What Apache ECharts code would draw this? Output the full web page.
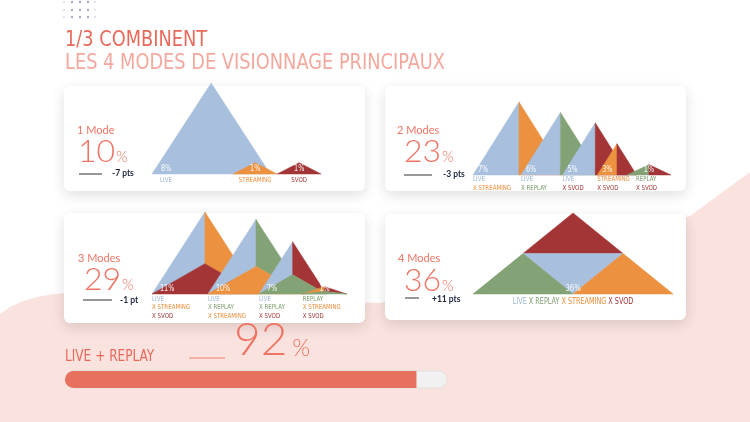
<!DOCTYPE html>
<html><head><meta charset="utf-8">
<script src="https://cdn.jsdelivr.net/npm/echarts@6/dist/echarts.min.js"></script>
<style>html,body{margin:0;padding:0;background:#fff}#c{width:750px;height:422px}</style>
</head><body><div id="c"></div><script>
// ---------- DATA ----------
const titleLine1 = '1/3 COMBINENT';
const titleLine2 = 'LES 4 MODES DE VISIONNAGE PRINCIPAUX';
const modeTitles = ['1 Mode', '2 Modes', '3 Modes', '4 Modes'];
const modeShares = [10, 23, 29, 36];
const modeDeltas = ['-7 pts', '-3 pts', '-1 pt', '+11 pts'];

const combos1 = [['LIVE'], ['STREAMING'], ['SVOD']];
const values1 = [8, 1, 1];

const combos2 = [['LIVE', 'STREAMING'], ['LIVE', 'REPLAY'], ['LIVE', 'SVOD'], ['STREAMING', 'SVOD'], ['REPLAY', 'SVOD']];
const values2 = [7, 6, 5, 3, 1];

const combos3 = [['LIVE', 'STREAMING', 'SVOD'], ['LIVE', 'REPLAY', 'STREAMING'], ['LIVE', 'REPLAY', 'SVOD'], ['REPLAY', 'STREAMING', 'SVOD']];
const faces3 = [['LIVE', 'STREAMING', 'SVOD'], ['LIVE', 'REPLAY', 'STREAMING'], ['LIVE', 'SVOD', 'REPLAY'], ['STREAMING', 'SVOD', 'REPLAY']]; // left, right, bottom
const values3 = [11, 10, 7, 1];

const combos4 = [['LIVE', 'REPLAY', 'STREAMING', 'SVOD']];
const faces4 = [['SVOD', 'LIVE', 'REPLAY', 'STREAMING']]; // top, centre, left, right
const values4 = [36];

const liveReplayLabel = 'LIVE + REPLAY';
const liveReplayShare = 92;

// ---------- STYLE ----------
const COLORS = { LIVE: '#a8c0dd', STREAMING: '#ec913f', REPLAY: '#83a275', SVOD: '#a33536' };
const TEXT_COLORS = { LIVE: '#9db6d8', STREAMING: '#ec8d3a', REPLAY: '#7c9c6c', SVOD: '#a33536' };
const SALMON = '#ee7464';
const NARROW = "'Liberation Sans Narrow', 'Arial Narrow', 'DejaVu Sans Condensed', sans-serif";
const LATO = "Lato, 'Open Sans', sans-serif";

const _ctx = document.createElement('canvas').getContext('2d');
function textW(t, size, family, weight) {
  _ctx.font = (weight || 'normal') + ' ' + size + 'px ' + family;
  return _ctx.measureText(t).width;
}
// horizontal condensing so the available font matches the narrow display face
const SQ = Math.min(1, 380 / textW(titleLine2, 22, NARROW));

const LABEL_SIZE = 6.8;
const cfgs = [
  { kind: 1, k: 0.65, minW: 22, smallH: 20, gap: 2, smallGap: 22, labelDx: 8, pctDx: 9, rowStart: 6, rowGap: 8.5, centerSmall: true },
  { kind: 2, k: 0.63, minW: 22, smallH: 20, gap: 2, smallGap: 10, labelDx: 0, pctDx: 5, rowStart: 4.5, rowGap: 8.5, centerSmall: false },
  { kind: 3, k: 0.645, minW: 22, smallH: 20, gap: 3, smallGap: 10, labelDx: 0, pctDx: 8, rowStart: 5, rowGap: 8.5, centerSmall: false, inner: 0.37 },
  { kind: 4, k: 1.235, minW: 22, smallH: 0, gap: 0, smallGap: 0, labelDx: 0, pctDx: 0, rowStart: 8, rowGap: 0 }
];

function lineTexts(combo) {
  return combo.map((m, i) => ({ text: (i === 0 ? '' : 'X ') + m, mode: m }));
}

function layoutPeaks(vals, combos, api, x0, cfg) {
  const b = api.coord([0, 0])[1];
  const out = [];
  let prevApex = null, prevLabelEnd = -1e9;
  vals.forEach((v, j) => {
    const top = api.coord([0, v])[1];
    const h = b - top;
    const small = h < cfg.smallH;
    const w = small ? cfg.minW : h * cfg.k;
    const L = j === 0 ? x0 : prevApex + (small ? cfg.smallGap : cfg.gap);
    const A = L + w, R = L + 2 * w;
    const lines = lineTexts(combos[j]);
    const lw = SQ * Math.max.apply(null, lines.map(l => textW(l.text, LABEL_SIZE, NARROW)));
    let lx = (small && cfg.centerSmall) ? A - lw / 2 : L + cfg.labelDx;
    lx = Math.max(lx, prevLabelEnd + 6);
    prevLabelEnd = lx + lw;
    out.push({ L, A, R, top, b, h, small, lx, lines });
    prevApex = A;
  });
  return out;
}

function poly(points, color) {
  return { type: 'polygon', shape: { points }, style: { fill: color, stroke: color, lineWidth: 0.5 } };
}

function makeSeries(idx, vals, combos, faces) {
  const cfg = cfgs[idx];
  return {
    type: 'custom', xAxisIndex: idx, yAxisIndex: idx, clip: false, silent: true,
    data: vals.map((v, i) => [i, v]), encode: { x: 0, y: 1 },
    renderItem: function (params, api) {
      const i = params.dataIndex;
      const lay = layoutPeaks(vals, combos, api, params.coordSys.x, cfg);
      const p = lay[i];
      const { L, A, R, top, b, h } = p;
      const ch = [];
      const combo = combos[i];
      if (cfg.kind === 1) {
        ch.push(poly([[L, b], [A, top], [R, b]], COLORS[combo[0]]));
      } else if (cfg.kind === 2) {
        ch.push(poly([[L, b], [A, top], [A, b]], COLORS[combo[0]]));
        ch.push(poly([[A, b], [A, top], [R, b]], COLORS[combo[1]]));
      } else if (cfg.kind === 3) {
        const f = faces[i];
        const py = b - h * cfg.inner;
        ch.push(poly([[L, b], [A, top], [A, py]], COLORS[f[0]]));
        ch.push(poly([[A, top], [R, b], [A, py]], COLORS[f[1]]));
        ch.push(poly([[L, b], [A, py], [R, b]], COLORS[f[2]]));
      } else {
        const f = faces[i];
        const my = (top + b) / 2;
        const m1 = [(L + A) / 2, my], m2 = [(A + R) / 2, my];
        ch.push(poly([[A, top], m1, m2], COLORS[f[0]]));
        ch.push(poly([m1, m2, [A, b]], COLORS[f[1]]));
        ch.push(poly([[L, b], m1, [A, b]], COLORS[f[2]]));
        ch.push(poly([[A, b], m2, [R, b]], COLORS[f[3]]));
      }
      const centered = cfg.kind === 4 || p.small;
      ch.push({
        type: 'text', z2: 10, scaleX: SQ,
        x: centered ? A : L + cfg.pctDx, y: b - 5,
        style: { text: api.value(1) + '%', fill: 'rgba(255,255,255,0.92)', fontSize: cfg.kind === 4 ? 8.5 : 8, fontFamily: NARROW, align: centered ? 'center' : 'left', verticalAlign: 'middle' }
      });
      if (cfg.kind === 4) {
        const segs = p.lines;
        const sp = SQ * textW(' ', 8, NARROW);
        const ws = segs.map(s => SQ * textW(s.text, 8, NARROW));
        const total = ws.reduce((a, c) => a + c, 0) + sp * (segs.length - 1);
        let x = A - total / 2;
        segs.forEach((s, k) => {
          ch.push({ type: 'text', x, y: b + cfg.rowStart, scaleX: SQ, style: { text: s.text, fill: TEXT_COLORS[s.mode], fontSize: 8, fontFamily: NARROW, align: 'left', verticalAlign: 'middle' } });
          x += ws[k] + sp;
        });
      } else {
        p.lines.forEach((l, k) => {
          ch.push({ type: 'text', x: p.lx, y: b + cfg.rowStart + k * cfg.rowGap, scaleX: SQ, style: { text: l.text, fill: TEXT_COLORS[l.mode], fontSize: LABEL_SIZE, fontFamily: NARROW, align: 'left', verticalAlign: 'middle' } });
        });
      }
      return { type: 'group', children: ch };
    }
  };
}

// ---------- GRAPHIC (background, cards, texts) ----------
const g = [];
g.push({ type: 'polygon', shape: { points: [[0, 314], [10, 307], [22, 301.5], [35, 297.5], [50, 294.5], [66, 293], [380, 303], [690, 216], [750, 172], [750, 422], [0, 422]] }, style: { fill: '#fae2de' } });
[64, 72, 80, 88, 95].forEach((x, ci) => [2, 10, 17].forEach(y => {
  g.push({ type: 'circle', shape: { cx: x, cy: y, r: 1.2 }, style: { fill: (ci === 0 || ci === 4) ? '#e3e4ec' : '#a6aac2' } });
}));
const cards = [[64, 86, 301, 105], [385, 86, 301, 105], [64, 213, 301, 110], [385, 214, 301, 106]];
cards.forEach(c => g.push({ type: 'rect', shape: { x: c[0], y: c[1], width: c[2], height: c[3], r: 6 }, style: { fill: '#fff', shadowBlur: 14, shadowColor: 'rgba(0,0,0,0.13)', shadowOffsetY: 4 } }));
function txt(x, y, text, size, fill, family, weight, sx) {
  return { type: 'text', x, y, z: 5, scaleX: sx || 1, style: { text, fill, fontSize: size, fontFamily: family, fontWeight: weight || 'normal', align: 'left', verticalAlign: 'middle' } };
}
g.push(txt(65, 40, titleLine1, 22, '#e8695a', NARROW, 'normal', SQ));
g.push(txt(65, 63, titleLine2, 22, '#f4a89d', NARROW, 'normal', SQ));
const txtPos = [
  { t: [77, 130], n: [78, 151.5], line: [79, 102, 174], d: [112, 173] },
  { t: [397, 130], n: [404, 151.5], line: [404, 432, 175], d: [443, 174] },
  { t: [78, 258], n: [84, 280], line: [83, 112, 300], d: [120, 300] },
  { t: [398, 258], n: [404, 280.5], line: [405, 419, 298], d: [432, 299] }
];
txtPos.forEach((p, i) => {
  g.push(txt(p.t[0], p.t[1], modeTitles[i], 11, SALMON, LATO));
  const num = String(modeShares[i]);
  g.push(txt(p.n[0], p.n[1], num, 32, SALMON, LATO, 300));
  const nw = textW(num, 32, LATO, 300);
  g.push(txt(p.n[0] + nw + 1, p.n[1] + 5.5, '%', 15, SALMON, LATO, 300));
  g.push({ type: 'line', z: 5, shape: { x1: p.line[0], y1: p.line[2], x2: p.line[1], y2: p.line[2] }, style: { stroke: '#6e6e6e', lineWidth: 1.4 } });
  g.push(txt(p.d[0], p.d[1], modeDeltas[i], 8.5, '#1d2540', LATO, 700));
});
g.push(txt(65, 357.5, liveReplayLabel, 15, '#e8695a', NARROW, 'normal', SQ));
g.push({ type: 'line', z: 5, shape: { x1: 189, y1: 358, x2: 225, y2: 358 }, style: { stroke: '#ee8273', lineWidth: 1 } });
const bigNum = String(liveReplayShare);
g.push(txt(234, 340.5, bigNum, 46, SALMON, LATO, 300));
g.push(txt(234 + textW(bigNum, 46, LATO, 300) + 5, 349, '%', 23, SALMON, LATO, 300));

// ---------- OPTION ----------
const grids = [
  { left: 152, top: 83, width: 190, height: 91 },
  { left: 473, top: 102, width: 205, height: 73 },
  { left: 152, top: 212, width: 195, height: 82 },
  { left: 473, top: 213, width: 201, height: 81 },
  { left: 65, top: 371, width: 382, height: 17 }
];
const maxes = [values1, values2, values3, values4].map(v => Math.max.apply(null, v));
const option = {
  animation: false,
  graphic: g,
  grid: grids,
  xAxis: [0, 1, 2, 3].map(i => ({ type: 'value', gridIndex: i, min: 0, max: 1, show: false })).concat([{ type: 'value', gridIndex: 4, min: 0, max: 100, show: false }]),
  yAxis: [0, 1, 2, 3].map(i => ({ type: 'value', gridIndex: i, min: 0, max: maxes[i], show: false })).concat([{ type: 'category', gridIndex: 4, data: [liveReplayLabel], show: false }]),
  series: [
    makeSeries(0, values1, combos1),
    makeSeries(1, values2, combos2),
    makeSeries(2, values3, combos3, faces3),
    makeSeries(3, values4, combos4, faces4),
    {
      type: 'bar', xAxisIndex: 4, yAxisIndex: 4, data: [liveReplayShare], barWidth: 17, silent: true,
      showBackground: true,
      backgroundStyle: { color: '#f1f1f1', borderRadius: 8.5, borderColor: '#e0e0e0', borderWidth: 1 },
      itemStyle: { color: '#e8705f', borderRadius: [8.5, 0, 0, 8.5] }
    }
  ]
};
const chart = echarts.init(document.getElementById('c'), null, { renderer: 'canvas' });
chart.setOption(option);
</script></body></html>
